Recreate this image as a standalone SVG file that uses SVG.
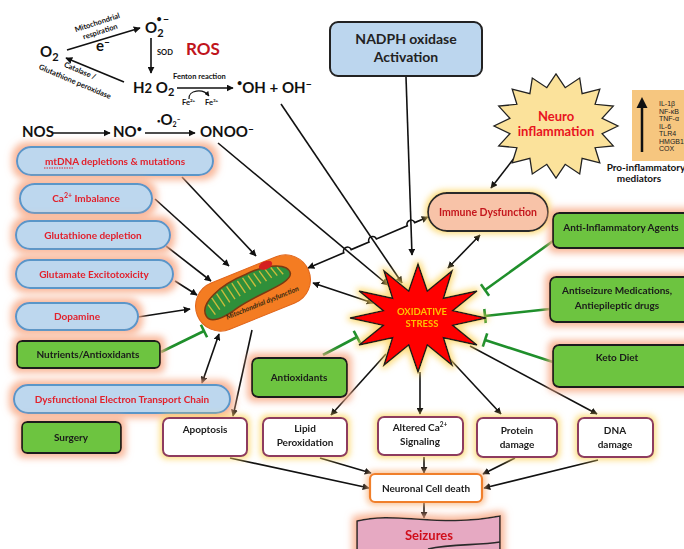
<svg xmlns="http://www.w3.org/2000/svg" width="684" height="549" viewBox="0 0 684 549">
<defs>
<style>
text { font-family: Lato, "Liberation Sans", sans-serif; font-weight: bold; }
.oval { fill: #bdd7ee; stroke: #5a96c8; stroke-width: 2; }
.rt { fill: #e2202c; font-size: 10px; text-anchor: middle; }
.gbox { fill: #6dc440; stroke: #1a1a1a; stroke-width: 1.8; }
.gt { fill: #1a1a1a; font-size: 10px; text-anchor: middle; }
.wbox { fill: #ffffff; stroke: #8e3b5e; stroke-width: 2; }
.bt { fill: #1a1a1a; font-size: 10px; text-anchor: middle; }
.ln { stroke: #111; stroke-width: 1.6; fill: none; }
.arr { marker-end: url(#ah); }
.bi { marker-start: url(#ah); marker-end: url(#ah); }
.inh { stroke: #1f8f2b; stroke-width: 2.6; fill: none; }
.chem { fill: #111; font-size: 15px; }
.small { fill: #111; font-size: 7.5px; }
.med { fill: #222; font-size: 7px; font-weight: normal; font-family: "Liberation Sans Narrow", "Liberation Sans", sans-serif; }
</style>
<marker id="ah" viewBox="0 0 10 10" refX="9" refY="5" markerWidth="7" markerHeight="7" markerUnits="userSpaceOnUse" orient="auto-start-reverse">
<path d="M0,0 L10,5 L0,10 z" fill="#111"/>
</marker>
<marker id="ahs" viewBox="0 0 10 10" refX="9" refY="5" markerWidth="5" markerHeight="5" markerUnits="userSpaceOnUse" orient="auto">
<path d="M0,0 L10,5 L0,10 z" fill="#111"/>
</marker>
<filter id="gSal" x="-25%" y="-60%" width="150%" height="220%">
<feMorphology in="SourceAlpha" operator="dilate" radius="4" result="d"/>
<feGaussianBlur in="d" stdDeviation="3.5" result="b"/>
<feFlood flood-color="#f8ab88" flood-opacity="0.85"/>
<feComposite in2="b" operator="in" result="g"/>
<feMerge><feMergeNode in="g"/><feMergeNode in="SourceGraphic"/></feMerge>
</filter>
<filter id="gYel" x="-25%" y="-50%" width="150%" height="200%">
<feMorphology in="SourceAlpha" operator="dilate" radius="2" result="d"/>
<feGaussianBlur in="d" stdDeviation="3" result="b"/>
<feFlood flood-color="#fcd35c" flood-opacity="0.8"/>
<feComposite in2="b" operator="in" result="g"/>
<feMerge><feMergeNode in="g"/><feMergeNode in="SourceGraphic"/></feMerge>
</filter>
<filter id="gOr" x="-25%" y="-50%" width="150%" height="200%">
<feMorphology in="SourceAlpha" operator="dilate" radius="2" result="d"/>
<feGaussianBlur in="d" stdDeviation="3" result="b"/>
<feFlood flood-color="#f9b27a" flood-opacity="0.8"/>
<feComposite in2="b" operator="in" result="g"/>
<feMerge><feMergeNode in="g"/><feMergeNode in="SourceGraphic"/></feMerge>
</filter>
</defs>

<rect width="684" height="549" fill="#ffffff"/>

<!-- ROS chemistry -->
<g id="ros-chemistry">
<text class="chem" x="40" y="57" font-size="16">O<tspan dy="4" font-size="11">2</tspan></text>
<text class="small" transform="translate(98,25) rotate(-18)" text-anchor="middle">Mitochondrial</text>
<text class="small" transform="translate(101,34) rotate(-18)" text-anchor="middle">respiration</text>
<text class="chem" x="96" y="51" font-size="13">e<tspan dy="-5" font-size="11">‒</tspan></text>
<text class="chem" x="145" y="33" font-size="16">O<tspan dy="4" font-size="11">2</tspan><tspan dx="-7" dy="-15" font-size="9">•</tspan><tspan dx="1" dy="1" font-size="12">‒</tspan></text>
<text class="small" x="157" y="55" font-size="6">SOD</text>
<text x="186" y="55" fill="#c0141c" font-size="17">ROS</text>
<text class="chem" x="133" y="93" font-size="15">H<tspan font-size="13">2</tspan> O<tspan dy="3" font-size="11">2</tspan></text>
<text class="small" transform="translate(79,73) rotate(23)" text-anchor="middle">Catalase /</text>
<text class="small" transform="translate(74,84) rotate(23)" text-anchor="middle">Glutathione peroxidase</text>
<text class="small" x="173" y="79" font-size="8">Fenton reaction</text>
<text class="chem" x="237" y="93" font-size="14"><tspan dy="-7" font-size="9">•</tspan><tspan dy="7">OH + OH</tspan><tspan dy="-5" font-size="12">‒</tspan></text>
<text class="small" x="182" y="105" font-size="6">Fe<tspan dy="-3" font-size="4.5">2+</tspan></text>
<text class="small" x="205" y="105" font-size="6">Fe<tspan dy="-3" font-size="4.5">3+</tspan></text>
<text class="chem" x="22" y="137" font-size="13">NOS</text>
<text class="chem" x="113" y="137" font-size="13">NO<tspan dy="-5" font-size="9">•</tspan></text>
<text class="chem" x="157" y="125" font-size="9"><tspan dy="-2" font-size="6">•</tspan><tspan dy="2">O</tspan><tspan dy="2" font-size="7">2</tspan><tspan dy="-5" font-size="7">‒</tspan></text>
<text class="chem" x="200" y="137" font-size="13">ONOO<tspan dy="-4" font-size="11">‒</tspan></text>
</g>

<!-- connectors -->
<g id="connectors">
<!-- chemistry arrows -->
<line class="ln arr" x1="67" y1="50" x2="140" y2="28"/>
<line class="ln arr" x1="151" y1="38" x2="151" y2="73"/>
<line class="ln arr" x1="124" y1="82" x2="66" y2="58"/>
<line class="ln arr" x1="177" y1="88" x2="233" y2="88"/>
<path d="M189,99 C188,90 203,88 209,96" stroke="#111" stroke-width="1.2" fill="none" marker-end="url(#ahs)"/>
<line class="ln arr" x1="53" y1="133" x2="110" y2="133"/>
<line class="ln arr" x1="145" y1="133" x2="195" y2="133"/>
<!-- into oxidative stress -->
<line class="ln arr" x1="218" y1="143" x2="388" y2="285"/>
<line class="ln arr" x1="281" y1="104" x2="402" y2="283"/>
<line class="ln arr" x1="406" y1="77" x2="412" y2="255"/>
<!-- into mitochondria -->
<line class="ln arr" x1="182" y1="177" x2="256" y2="256"/>
<line class="ln arr" x1="155" y1="199" x2="229" y2="266"/>
<line class="ln arr" x1="166" y1="246" x2="211" y2="281"/>
<line class="ln arr" x1="175" y1="281" x2="197" y2="295"/>
<line class="ln arr" x1="138" y1="317" x2="190" y2="309"/>
<line class="ln bi" x1="202" y1="383" x2="219" y2="334"/>
<line class="ln arr" x1="252" y1="330" x2="233" y2="416"/>
<line class="ln bi" x1="313" y1="283" x2="373" y2="303"/>
<path class="ln bi" d="M428,217 L414.7,222.6 A4,4 0 0 0 407.3,225.8 L376.4,238.9 A4,4 0 0 0 369,242.1 L351.2,249.6 A4,4 0 0 0 343.8,252.8 L308,268"/>
<line class="ln bi" x1="480" y1="235" x2="448" y2="268"/>
<line class="ln arr" x1="515" y1="157" x2="491" y2="188"/>
<!-- oxidative stress to damage -->
<line class="ln arr" x1="386" y1="354" x2="331" y2="415"/>
<line class="ln arr" x1="420" y1="372" x2="420" y2="414"/>
<line class="ln arr" x1="448" y1="357" x2="501" y2="414"/>
<line class="ln arr" x1="470" y1="346" x2="597" y2="414"/>
<!-- damage to neuronal death -->
<line class="ln arr" x1="230" y1="458" x2="369" y2="488"/>
<line class="ln arr" x1="320" y1="458" x2="371" y2="473"/>
<line class="ln arr" x1="424" y1="457" x2="424" y2="473"/>
<line class="ln arr" x1="515" y1="458" x2="483" y2="474"/>
<line class="ln arr" x1="598" y1="460" x2="484" y2="488"/>
<line class="ln arr" x1="424" y1="502" x2="424" y2="518"/>
<!-- inhibition -->
<line class="inh" x1="161" y1="352" x2="204" y2="331"/>
<line class="inh" x1="200.9" y1="324.7" x2="207.1" y2="337.3"/>
<line class="inh" x1="323" y1="355" x2="357" y2="337"/>
<line class="inh" x1="353.7" y1="330.8" x2="360.3" y2="343.2"/>
<line class="inh" x1="553" y1="241" x2="485" y2="290"/>
<line class="inh" x1="480.9" y1="284.3" x2="489.1" y2="295.7"/>
<line class="inh" x1="550" y1="309" x2="485" y2="316"/>
<line class="inh" x1="484.3" y1="309" x2="485.7" y2="323"/>
<line class="inh" x1="553" y1="362" x2="485" y2="340"/>
<line class="inh" x1="487.2" y1="333.3" x2="482.8" y2="346.7"/>
</g>

<!-- causes -->
<g id="mtdna" filter="url(#gSal)">
<rect class="oval" x="17" y="147" width="196" height="28" rx="14"/>
<text class="rt" x="115" y="165">mtDNA depletions &amp; mutations</text>
<line x1="44" y1="168" x2="73" y2="168" stroke="#e2202c" stroke-width="1" stroke-dasharray="1.5,1"/>
</g>
<g id="calcium" filter="url(#gSal)">
<rect class="oval" x="20" y="184" width="132" height="29" rx="14.5"/>
<text class="rt" x="86" y="202">Ca<tspan dy="-4" font-size="7">2+</tspan><tspan dy="4"> Imbalance</tspan></text>
</g>
<g id="glutathione" filter="url(#gSal)">
<rect class="oval" x="16" y="221" width="154" height="28" rx="14"/>
<text class="rt" x="93" y="239">Glutathione depletion</text>
</g>
<g id="glutamate" filter="url(#gSal)">
<rect class="oval" x="16" y="260" width="157" height="28" rx="14"/>
<text class="rt" x="94" y="278">Glutamate Excitotoxicity</text>
</g>
<g id="dopamine" filter="url(#gSal)">
<rect class="oval" x="16" y="303" width="122" height="27" rx="13.5"/>
<text class="rt" x="77" y="320">Dopamine</text>
</g>
<g id="nutrients" filter="url(#gSal)">
<rect class="gbox" x="17" y="341" width="143" height="27" rx="5"/>
<text class="gt" x="88" y="358">Nutrients/Antioxidants</text>
</g>
<g id="etc" filter="url(#gSal)">
<rect class="oval" x="14" y="385" width="216" height="28" rx="14"/>
<text class="rt" x="122" y="403">Dysfunctional Electron Transport Chain</text>
</g>
<g id="surgery" filter="url(#gSal)">
<rect class="gbox" x="22" y="422" width="99" height="31" rx="5"/>
<text class="gt" x="71" y="441">Surgery</text>
</g>

<!-- mitochondrion -->
<g id="mitochondria" transform="translate(253,293) rotate(-22)">
<rect x="-60" y="-25" width="120" height="50" rx="25" fill="#f47c22" stroke="#e0651a"/>
<path d="M-52,4 C-54,-10 -28,-20 0,-20 C26,-22 44,-14 42,-4 C38,6 6,2 -20,8 C-38,13 -51,12 -52,4 Z" fill="#2f8f3a" stroke="#7a3a12" stroke-width="1.5"/>
<path d="M-46,-6 l3,12 M-40,-11 l3,14 M-34,-13 l3,15 M-28,-15 l3,15 M-22,-16 l3,15 M-16,-17 l3,15 M-10,-17 l3,14 M-4,-18 l3,14 M2,-18 l3,13 M8,-18 l3,12 M14,-18 l3,12 M20,-18 l3,11 M26,-17 l3,10 M32,-15 l3,9" stroke="#c9bb3c" stroke-width="1.4" fill="none"/>
<ellipse cx="22" cy="-21" rx="7" ry="4" fill="#d42020"/>
<text x="5" y="15" font-size="7" fill="#3a2a10" text-anchor="middle" font-weight="normal" font-style="italic">Mitochondrial dysfunction</text>
</g>

<!-- NADPH oxidase -->
<g id="nadph">
<rect x="330" y="22" width="152" height="54" rx="8" fill="#bcd6ee" stroke="#222" stroke-width="2"/>
<text x="406" y="44" font-size="14" fill="#222" text-anchor="middle">NADPH oxidase</text>
<text x="406" y="62" font-size="14" fill="#222" text-anchor="middle">Activation</text>
</g>

<!-- neuroinflammation -->
<g id="neuroinflammation">
<polygon points="618,126 602.1,133.6 613.3,145.9 595.1,147.7 599.8,162.8 582.1,158.4 579.7,174 565.2,164.3 556,178 546.8,164.3 532.3,174 529.9,158.4 512.2,162.8 516.9,147.7 498.7,145.9 509.9,133.6 494,126 509.9,118.4 498.7,106.1 516.9,104.3 512.2,89.2 529.9,93.6 532.3,78 546.8,87.7 556,74 565.2,87.7 579.7,78 582.1,93.6 599.8,89.2 595.1,104.3 613.3,106.1 602.1,118.4" fill="#fbe29b" stroke="#222" stroke-width="1.3"/>
<text x="556" y="121" font-size="13" fill="#e8141e" text-anchor="middle">Neuro</text>
<text x="556" y="136" font-size="13" fill="#e8141e" text-anchor="middle">inflammation</text>
</g>

<g id="mediators">
<rect x="632" y="90" width="52" height="71" fill="#f6c67f"/>
<line x1="642" y1="152" x2="642" y2="106" stroke="#111" stroke-width="2.5"/>
<path d="M636.5,108 L642,97 L647.5,108 z" fill="#111"/>
<text class="med" x="659" y="106">IL-1β</text>
<text class="med" x="659" y="113.5">NF-κB</text>
<text class="med" x="659" y="121">TNF-α</text>
<text class="med" x="659" y="128.5">IL-6</text>
<text class="med" x="659" y="136">TLR4</text>
<text class="med" x="659" y="143.5">HMGB1</text>
<text class="med" x="659" y="151">COX</text>
<text x="646" y="171" font-size="10" fill="#111" text-anchor="middle">Pro-inflammatory</text>
<text x="639" y="182" font-size="10" fill="#111" text-anchor="middle">mediators</text>
</g>

<g id="immune" filter="url(#gYel)">
<rect x="428" y="193" width="120" height="38" rx="19" fill="#f8c3a8" stroke="#2a2a2a" stroke-width="1.8"/>
<text x="488" y="216" font-size="10.5" fill="#c4161c" text-anchor="middle">Immune Dysfunction</text>
</g>

<!-- treatments -->
<g id="anti-inflammatory" filter="url(#gSal)">
<rect class="gbox" x="553" y="213" width="140" height="35" rx="6"/>
<text class="gt" x="621" y="231">Anti-Inflammatory Agents</text>
</g>
<g id="antiseizure" filter="url(#gSal)">
<rect class="gbox" x="550" y="277" width="140" height="45" rx="6"/>
<text class="gt" x="617" y="294">Antiseizure Medications,</text>
<text class="gt" x="617" y="309">Antiepileptic drugs</text>
</g>
<g id="keto" filter="url(#gSal)">
<rect class="gbox" x="553" y="345" width="140" height="42" rx="6"/>
<text class="gt" x="617" y="361">Keto Diet</text>
</g>
<g id="antioxidants" filter="url(#gSal)">
<rect class="gbox" x="252" y="358" width="95" height="39" rx="6"/>
<text class="gt" x="299" y="381">Antioxidants</text>
</g>

<!-- oxidative stress -->
<g id="oxidative-stress" filter="url(#gYel)">
<polygon points="418,264 427.3,291 452,271 443.5,298.2 477,291 452.8,310.7 486,318 452.8,325.3 477,345 443.5,337.8 452,365 427.3,345 418,372 408.7,345 384,365 392.5,337.8 359,345 383.2,325.3 350,318 383.2,310.7 359,291 392.5,298.2 384,271 408.7,291" fill="#ff0000" stroke="#1a1a1a" stroke-width="1.5"/>
<text x="422" y="315" font-size="9.5" fill="#ffc000" text-anchor="middle">OXIDATIVE</text>
<text x="422" y="327" font-size="9.5" fill="#ffc000" text-anchor="middle">STRESS</text>
</g>

<!-- consequences -->
<g id="apoptosis" filter="url(#gYel)">
<rect class="wbox" x="163" y="418" width="84" height="38" rx="6"/>
<text class="bt" x="205" y="433">Apoptosis</text>
</g>
<g id="lipid" filter="url(#gYel)">
<rect class="wbox" x="263" y="418" width="84" height="38" rx="6"/>
<text class="bt" x="305" y="432">Lipid</text>
<text class="bt" x="305" y="446">Peroxidation</text>
</g>
<g id="calcium-signaling" filter="url(#gYel)">
<rect class="wbox" x="378" y="417" width="85" height="38" rx="6"/>
<text class="bt" x="420" y="431">Altered Ca<tspan dy="-4" font-size="6.5">2+</tspan></text>
<text class="bt" x="420" y="445">Signaling</text>
</g>
<g id="protein" filter="url(#gYel)">
<rect class="wbox" x="477" y="418" width="80" height="39" rx="6"/>
<text class="bt" x="517" y="434">Protein</text>
<text class="bt" x="517" y="448">damage</text>
</g>
<g id="dna" filter="url(#gYel)">
<rect class="wbox" x="578" y="418" width="75" height="39" rx="6"/>
<text class="bt" x="615" y="434">DNA</text>
<text class="bt" x="615" y="448">damage</text>
</g>
<g id="neuronal-death" filter="url(#gOr)">
<rect x="370" y="474" width="112" height="28" rx="5" fill="#ffffff" stroke="#f07f2a" stroke-width="2.2"/>
<text class="bt" x="426" y="492">Neuronal Cell death</text>
</g>
<g id="seizures" filter="url(#gSal)">
<path d="M357,521 C395,511 440,528 500,516 L500,556 L357,556 Z" fill="#e6a9c2" stroke="#2a2a2a" stroke-width="1.6"/>
<path d="M428,549 C452,543 478,546 500,542" fill="none" stroke="#2a2a2a" stroke-width="1.6"/>
<text x="429" y="540" font-size="13" fill="#d0101a" text-anchor="middle">Seizures</text>
</g>
</svg>
